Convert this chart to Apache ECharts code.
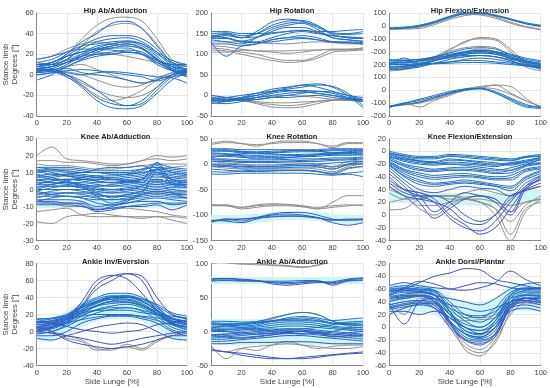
<!DOCTYPE html>
<html><head><meta charset="utf-8">
<script src="https://cdn.jsdelivr.net/npm/echarts@6/dist/echarts.min.js"></script>
<style>html,body{margin:0;padding:0;background:#fff}#c{width:550px;height:388px}</style>
</head><body><div id="c"></div>
<script>
const X = [0,10,20,30,40,50,60,70,80,90,100];
const xTicks = [0,20,40,60,80,100];

// Hip Ab/Adduction
const hipAbTicks = ['-40','-20','0','20','40','60'];
const hipAbGray = [
[10,12,20,35,48,55,56,52,35,15,8],[8,10,15,28,42,48,50,45,30,12,5],[5,4,0,-8,-15,-20,-22,-20,-12,0,3],
[5,3,-2,-10,-20,-25,-22,-15,-5,2,5],[3,5,8,10,5,0,-5,-8,-5,0,2],[12,10,15,20,22,20,18,15,12,10,8],
[6,5,3,0,-5,-10,-12,-10,-3,2,5],[15,18,25,30,32,30,28,25,15,10,8]];
const hipAbBlue = [
[10,12,20,32,40,50,52,45,28,12,5],[8,10,18,28,35,38,38,35,25,10,5],[5,8,15,25,32,35,36,32,22,8,2],
[12,15,22,28,30,32,33,30,20,12,8],[3,6,12,20,26,30,32,28,18,6,0],[8,12,18,22,25,28,30,26,15,8,6],
[0,2,8,15,22,26,28,25,15,5,-2],[6,8,12,16,20,22,24,22,14,8,4],[10,10,14,18,20,20,22,20,12,6,3],
[4,5,6,2,0,-2,-5,-8,-5,0,4],[2,3,0,-6,-15,-25,-30,-28,-15,-2,3],[5,4,-2,-12,-25,-32,-33,-30,-18,-5,2],
[8,6,0,-10,-22,-28,-30,-25,-12,0,5],[0,2,4,5,4,2,0,-2,-6,-2,0],[15,18,22,25,25,24,22,20,14,10,10],
[-5,0,8,14,18,20,22,20,12,4,-2],[3,5,2,0,2,3,2,0,-2,-3,-8],[10,12,18,22,28,30,32,30,22,14,10],
[2,4,10,18,24,28,30,26,16,4,0],[6,8,12,18,24,26,26,20,10,4,2]];

// Hip Rotation
const hipRotTicks = ['-50','0','50','100','150','200'];
const hipRotGray = [
[115,112,105,100,90,85,85,95,110,110,112],[110,108,100,92,85,80,82,90,105,108,110],
[120,118,112,108,105,102,105,110,112,112,115],[105,105,110,108,108,108,110,110,112,112,115],
[130,130,130,128,126,125,128,130,128,125,125],[0,-5,-10,-18,-22,-25,-22,-15,-10,-8,-10],
[-5,-8,-12,-20,-28,-30,-28,-20,-12,-10,-12],[-10,-10,-12,-15,-18,-18,-16,-14,-12,-12,-14],
[-15,-12,-10,-5,-2,0,-2,-5,-10,-12,-15]];
const hipRotBlue = [
[140,150,140,155,178,185,180,165,150,148,150],[145,148,140,150,170,180,182,170,148,140,138],
[150,152,145,150,165,175,178,168,152,150,155],[135,130,125,140,160,170,175,160,140,135,130],
[140,145,140,142,150,155,158,152,145,142,140],[130,95,120,125,135,140,145,140,130,128,125],
[145,140,130,130,140,150,155,150,145,140,138],[155,155,150,150,152,155,158,155,155,158,160],
[125,125,120,125,135,140,140,135,130,128,125],[138,138,130,128,130,135,138,135,130,130,128],
[142,140,132,140,155,165,165,155,140,135,132],
[-10,-12,-5,5,15,20,25,20,10,0,-10],[-15,-10,-5,0,8,15,20,25,22,5,-25],
[-5,-10,-12,-5,5,10,12,10,5,-5,-15],[-20,-15,-8,0,10,18,25,28,20,0,-30],
[-8,-5,0,5,10,12,10,5,0,-5,-10],[-12,-15,-10,-5,0,5,8,5,0,-8,-10],
[0,-5,-8,-10,-5,0,5,10,8,0,-5],[-18,-20,-15,-10,-5,-5,-2,0,-5,-10,-15]];

// Hip Flexion/Extension (stacked offset axis)
const hipFlexTicks = ['-200','-100','0','100','200','-200','-100','0','100'];
const hipFlexGray = [
[160,170,190,240,300,330,340,330,260,200,170],[170,175,200,250,310,380,400,390,300,210,160],
[180,185,210,260,320,370,410,400,320,220,170],[150,160,190,230,270,300,320,300,240,180,150],
[200,200,210,230,250,260,270,260,230,200,180],
[475,480,490,520,560,590,585,560,520,490,470],[470,475,480,510,550,580,590,570,530,495,475],
[-130,-100,-130,-80,-40,0,20,40,30,-60,-140],[-120,-110,-90,-60,-20,10,30,40,-20,-80,-130],
[-125,-115,-100,-70,-30,0,20,10,-30,-80,-125]];
const hipFlexBlue = [
[200,250,210,230,260,280,290,280,250,220,200],[190,230,200,230,270,300,310,300,260,220,190],
[210,210,230,260,290,320,330,320,280,230,200],[180,185,200,230,260,280,290,280,250,210,180],
[220,220,230,250,270,290,300,290,260,230,210],[160,165,180,210,240,260,270,260,230,190,170],
[240,235,240,250,270,290,300,290,270,240,220],[170,175,190,210,220,230,230,220,210,190,175],
[200,200,205,210,220,240,250,240,220,200,190],[230,230,240,260,280,300,310,300,280,250,230],
[185,190,200,205,210,215,215,210,200,190,180],[210,215,225,240,255,270,270,260,240,220,205],
[480,485,500,530,570,600,600,580,550,520,500],[485,490,505,535,575,600,598,578,548,515,495],
[478,482,495,525,565,595,600,585,555,525,505],
[-135,-100,-80,-50,-20,5,15,-20,-70,-120,-130],[-130,-110,-95,-60,-25,0,10,-20,-80,-130,-140],
[-125,-100,-70,-40,-10,10,15,-10,-60,-110,-135]];

// Knee Ab/Adduction
const kneeAbTicks = ['-30','-20','-10','0','10','20','30'];
const kneeAbGray = [
[20,25,18,17,16,15,15,17,20,19,20],[-19,-20,-16,-15,-14,-15,-16,-17,-16,-18,-20],
[-13,-12,-11,-15,-16,-16,-16,-16,-16,-16,-17],[17,17,16,16,15,14,15,17,18,17,18],
[15,14,14,13,12,12,13,14,15,15,15],[-7,-8,-10,-10,-11,-11,-11,-12,-13,-15,-16],
[10,11,11,10,10,9,9,10,12,13,14],[-3,-3,-2,-2,-3,-4,-4,-3,-2,-3,-4],[5,5,6,6,6,5,5,6,7,7,8]];
const kneeAbBlue = [
[13,13,13,12,11,11,11,12,13,12,11],[10,11,10,9,8,8,9,11,14,10,9],[8,9,8,7,6,6,7,8,10,8,7],
[6,6,6,5,4,4,5,6,8,6,5],[4,4,4,3,2,2,3,4,5,4,3],[2,2,2,1,0,0,1,2,3,2,1],[0,0,0,-1,-2,-2,-1,0,1,0,-1],
[-2,-2,-2,-3,-4,-4,-3,-2,-1,-2,-3],[-4,-4,-4,-5,-6,-6,-5,-4,-3,-4,-5],[-6,-6,-6,-7,-10,-9,-8,-6,-5,-6,-7],
[-8,-8,-8,-9,-13,-12,-10,-9,-8,-8,-8],[12,10,8,6,5,4,5,6,16,5,4],[9,7,5,3,2,3,4,6,12,3,2],
[7,8,9,10,10,9,9,10,11,10,9],[3,5,6,6,5,4,4,5,6,5,5],[1,3,4,4,3,2,2,3,4,3,3],[-1,1,2,2,1,0,0,1,2,1,1],
[-3,-1,0,0,-1,-2,-2,-1,0,-1,-1],[-5,-3,-2,-2,-3,-4,-4,-3,-2,-3,-3],[-7,-5,-4,-4,-5,-6,-6,-5,-4,-5,-5],
[5,7,8,8,7,6,6,7,9,7,6],[11,12,12,11,10,10,10,12,15,13,12],[0,2,2,1,-2,-5,-3,-1,5,-2,-5],
[8,6,4,2,-4,-8,-6,-2,10,4,2],[11,9,9,8,7,7,8,9,12,11,10],[-1,-3,-4,-5,-8,-9,-7,-3,-1,-2,-2],
[6,4,3,2,0,-1,0,2,6,3,3],[3,3,5,7,8,6,5,4,12,6,4],[13,12,11,10,12,13,13,14,10,9,8]];
const kneeAbDark = [[-9,-9,-9,-10,-12,-11,-10,-10,-9,-12,-9],[-7,-7,-8,-8,-12,-10,-8,-7,-7,-9,-8]];
const kneeAbBand = [[-11,-11,-11,-11,-11,-11,-11,-11,-11,-11,-11],[-6,-6,-6,-6,-6,-6,-6,-6,-6,-6,-6]];

// Knee Rotation
const kneeRotTicks = ['-150','-100','-50','0','50'];
const kneeRotGray = [
[40,45,40,35,42,45,45,40,35,42,42],[38,42,40,38,40,42,42,40,32,40,40],
[5,2,0,-5,-5,-3,-3,-5,-10,0,5],[0,-3,-5,-8,-8,-8,-8,-10,-15,-5,0],[10,8,5,5,3,2,2,0,-5,5,8],
[-5,-8,-10,-12,-12,-12,-12,-15,-20,-10,-5],
[-80,-82,-85,-82,-80,-80,-82,-85,-82,-80,-82],[-82,-82,-88,-85,-82,-82,-84,-88,-75,-62,-62],
[-80,-80,-85,-80,-78,-79,-82,-88,-85,-82,-80]];
const kneeRotBlue = [
[30,30,28,28,28,28,28,28,30,30,30],[25,25,22,22,22,23,24,24,26,26,27],[20,20,18,17,18,18,19,20,22,22,22],
[15,15,13,12,13,13,14,15,17,17,18],[10,10,8,8,8,9,10,10,12,12,14],[5,5,3,3,3,4,5,5,7,8,10],
[0,0,-2,-2,-2,-1,0,0,2,4,5],[-5,-5,-8,-8,-8,-7,-6,-6,-10,-2,0],[-10,-12,-14,-15,-14,-13,-13,-15,-18,-8,-5],
[-20,-20,-18,-18,-18,-18,-18,-20,-22,-20,-25],[28,26,24,20,22,25,26,25,22,24,26],
[12,18,20,22,20,18,15,18,20,22,24],[22,20,15,10,10,12,15,18,20,20,18],
[27,28,25,24,25,26,27,26,28,28,28],[18,17,16,15,15,16,17,18,19,20,20],[8,7,5,4,5,6,7,8,9,10,12],
[-2,-3,-5,-5,-5,-4,-3,-3,-6,0,2],[-15,-16,-14,-12,-12,-12,-12,-14,-20,-18,-15],
[-112,-110,-108,-105,-100,-98,-100,-105,-110,-110,-110],[-115,-108,-112,-105,-98,-95,-95,-100,-108,-110,-108]];
const kneeRotDark = [[-110,-112,-115,-108,-102,-102,-102,-105,-115,-120,-115],[-112,-108,-108,-106,-104,-102,-103,-106,-110,-108,-108]];
const kneeRotBand = [[-118,-118,-118,-116,-112,-110,-110,-112,-116,-118,-118],[-100,-100,-100,-98,-94,-92,-92,-94,-98,-100,-100]];

// Knee Flexion/Extension (stacked offset axis)
const kneeFlexTicks = ['-40','-20','0','20','40','-40','-20','0','20'];
const kneeFlexGray = [
[50,40,35,30,30,35,40,35,30,40,45],[45,30,10,0,15,25,20,10,-30,10,20],[40,30,15,15,20,25,20,0,-40,5,25],
[35,25,25,30,30,25,20,10,-10,15,30],[20,25,30,30,25,25,25,20,15,20,25],[8,10,25,30,30,28,30,25,5,20,25]];
const kneeFlexBlue = [
[100,95,92,92,95,94,92,90,88,92,95],[98,92,88,88,92,90,88,86,85,90,92],[95,88,84,82,86,85,82,80,82,86,90],
[92,84,80,78,80,80,78,76,80,82,86],[90,80,75,72,74,75,72,70,74,80,82],[88,76,70,68,70,70,68,65,66,76,80],
[85,72,66,62,64,65,62,60,62,72,76],[82,68,60,56,58,60,58,55,55,68,72],[80,65,55,50,52,55,52,48,45,60,70],
[78,60,48,45,48,50,48,45,38,55,65],[75,55,40,35,40,45,42,40,30,50,62],[90,88,85,82,80,78,75,72,70,78,88],
[96,90,85,84,88,86,84,82,78,84,90],[97,93,90,90,93,92,90,88,86,91,93],[93,86,82,80,83,82,80,78,81,84,88],
[87,78,72,70,72,72,70,67,70,78,81],[83,70,63,59,61,62,60,57,58,70,74],[79,62,52,48,50,52,50,46,42,58,68]];
const kneeFlexDark = [
[70,50,30,5,20,35,30,25,5,45,60],[65,45,20,-5,10,25,30,20,0,40,58],[60,40,30,20,-5,-20,-25,-10,20,45,55],
[55,40,35,25,0,-15,-30,-20,10,42,55],[50,35,30,30,20,0,-10,0,25,40,50],[45,30,25,20,10,-10,-15,0,30,38,45]];
const kneeFlexBand = [[20,20,18,18,15,15,15,15,15,18,20],[40,40,38,36,34,34,34,34,34,38,40]];

// Ankle Inv/Eversion
const ankInvTicks = ['-40','-20','0','20','40','60','80'];
const ankInvGray = [
[0,-2,-8,-12,-22,-20,-18,-22,-12,-5,0],[5,0,-5,-10,-20,-22,-15,-20,-10,-5,-2],
[2,5,10,20,30,35,35,30,20,10,5],[8,10,15,25,35,40,38,32,22,12,8]];
const ankInvBlue = [
[12,15,20,32,40,45,45,40,30,20,15],[8,10,18,30,38,42,42,38,28,15,10],[5,8,15,28,35,40,40,35,25,12,8],
[2,5,12,25,33,38,38,33,22,10,5],[0,3,10,22,30,35,35,30,20,8,2],[-2,0,8,18,26,30,32,28,18,5,0],
[10,12,15,20,25,28,28,25,20,15,12],[15,15,18,22,25,25,25,22,20,18,16],[14,16,20,28,35,38,40,38,32,22,18],
[3,6,14,26,34,40,42,36,24,10,6],[-3,0,6,15,22,26,28,24,14,2,-2],[8,10,14,18,20,20,20,18,16,12,10],
[6,9,16,29,36,41,41,36,26,13,9],[1,4,11,23,31,36,37,31,21,9,3],[11,13,17,24,30,33,34,30,24,16,12],
[4,6,10,14,17,19,19,17,13,8,6]];
const ankInvDark = [
[5,8,12,30,55,65,68,60,30,15,12],[0,5,15,35,60,66,62,45,25,10,5],[10,12,18,30,50,60,68,65,40,20,15],
[-5,-5,0,10,15,18,18,15,10,0,-5],[-8,-10,-5,0,5,8,10,8,0,-8,-10],[0,-2,-5,-8,-12,-15,-12,-8,-5,-2,0],
[5,0,-10,-15,-18,-20,-18,-15,-10,-5,-5],[12,10,6,2,0,-2,0,2,8,10,14]];
const ankInvBand = [[-12,-12,-5,5,12,15,15,12,5,-10,-12],[15,16,24,34,42,45,45,42,32,18,15]];

// Ankle Ab/Adduction
const ankAbTicks = ['-50','0','50','100'];
const ankAbGray = [
[100,102,100,98,98,97,95,97,103,105,102],[102,101,99,100,97,96,94,98,104,104,103],
[-20,-40,-25,-22,-20,-18,-20,-22,-25,-25,-22],[-25,-30,-25,-28,-20,-15,-20,-25,-22,-20,-20],
[5,10,12,15,18,25,28,25,15,8,5],[-5,-3,0,2,4,4,2,0,-5,-8,-5]];
const ankAbBlue = [
[75,76,75,74,73,72,73,74,72,75,76],[74,75,74,74,74,74,75,75,68,74,75],
[15,15,14,14,16,18,18,16,12,14,15],[10,10,10,12,15,18,20,18,12,10,10],[5,5,6,8,12,14,14,12,8,6,6],
[0,0,2,4,6,8,8,6,4,2,0],[-5,-4,-2,0,2,4,4,2,0,-2,-4],[-10,-8,-6,-4,-2,0,0,-2,-4,-6,-8],
[5,8,10,14,20,25,28,25,15,10,8],[12,10,8,10,15,20,22,20,16,18,20],[0,2,4,2,0,-2,-4,-2,0,4,2],
[8,8,6,4,2,2,4,6,10,12,10],[13,12,12,13,15,16,16,15,12,12,13],[3,3,4,6,9,11,11,9,6,4,3],
[-8,-6,-4,-2,0,2,2,0,-2,-4,-6],[-12,-11,-9,-7,-5,-3,-3,-5,-7,-9,-11]];
const ankAbDark = [
[76,78,77,75,72,70,72,73,70,76,78],[78,78,76,75,70,68,70,72,73,77,79],
[-15,-14,-12,-10,-8,-6,-6,-8,-10,-12,-14],[-18,-18,-16,-16,-16,-15,-15,-16,-18,-18,-18],
[-5,-8,-10,-8,-5,-2,0,-2,-8,-6,-5],[-28,-30,-35,-38,-40,-40,-38,-36,-34,-32,-30],
[-27,-30,-32,-35,-38,-40,-40,-38,-35,-33,-32],[2,0,-2,-4,-3,-1,0,-3,-5,-2,0]];
const ankAbBands = [[[70,70,70,70,70,70,70,70,70,70,70],[80,80,80,80,80,80,80,80,80,80,80]],
[[-20,-20,-20,-20,-20,-20,-20,-20,-20,-20,-20],[18,18,18,18,18,18,18,18,18,18,18]]];

// Ankle Dorsi/Plantar (stacked offset axis)
const ankDorTicks = ['-60','-40','-20','0','20','40','-60','-40','-20'];
const ankDorGray = [
[40,20,45,40,10,-35,-45,-20,20,40,45],[50,45,50,45,0,-30,-40,-25,25,50,55],
[45,50,52,45,20,10,12,15,35,45,45],[35,40,42,35,5,-25,-35,-15,30,40,40],[30,35,38,35,25,15,15,20,35,38,35]];
const ankDorBlue = [
[50,55,55,50,20,-5,-10,0,40,55,55],[45,50,50,45,10,-15,-20,-10,35,50,50],[55,60,58,55,30,10,0,15,50,60,60],
[60,62,60,58,40,20,15,30,55,62,62],[35,40,42,38,15,0,-5,10,40,45,40],[45,48,50,45,30,20,18,25,45,50,48],
[62,65,62,58,25,-5,-12,10,48,58,60],[28,32,36,38,20,5,0,15,40,42,38],[48,52,54,50,25,-10,-18,-5,38,52,52],
[52,57,56,52,25,0,-5,5,45,57,57],[42,47,49,42,8,-18,-22,-12,32,47,47],[58,61,59,56,35,15,8,22,52,61,61],
[32,37,40,34,8,-10,-16,0,35,42,38]];
const ankDorDark = [
[40,45,48,40,5,-20,-25,-15,30,45,45],[30,35,38,30,0,-20,-28,-10,30,40,35],[65,70,65,62,60,65,70,68,62,60,62],
[55,60,70,80,85,92,90,75,70,65,60],[50,62,72,68,60,58,62,70,88,75,65],[20,30,35,30,10,-10,-15,0,25,30,25],
[38,5,40,45,35,30,25,30,40,45,42],[58,58,56,50,45,40,35,45,60,68,70],[25,25,20,25,15,0,-10,5,30,35,30]];
const ankDorBand = [[20,22,24,22,0,-15,-20,-5,25,25,25],[66,68,68,64,50,40,38,45,68,68,68]];

const GRAY = '#8e8e8e', BLUE = '#1c6fc8', DARK = '#3d52cc', BAND = '#cdf6f6';

const panels = [
 {t:'Hip Ab/Adduction', min:-40,max:60,iv:20,ticks:hipAbTicks,g:hipAbGray,b:hipAbBlue,d:[],bands:[]},
 {t:'Hip Rotation', min:-50,max:200,iv:50,ticks:hipRotTicks,g:hipRotGray,b:hipRotBlue,d:[],bands:[]},
 {t:'Hip Flexion/Extension', min:-200,max:600,iv:100,ticks:hipFlexTicks,g:hipFlexGray,b:hipFlexBlue,d:[],bands:[]},
 {t:'Knee Ab/Adduction', min:-30,max:30,iv:10,ticks:kneeAbTicks,g:kneeAbGray,b:kneeAbBlue,d:kneeAbDark,bands:[kneeAbBand]},
 {t:'Knee Rotation', min:-150,max:50,iv:50,ticks:kneeRotTicks,g:kneeRotGray,b:kneeRotBlue,d:kneeRotDark,bands:[kneeRotBand]},
 {t:'Knee Flexion/Extension', min:-40,max:120,iv:20,ticks:kneeFlexTicks,g:kneeFlexGray,b:kneeFlexBlue,d:kneeFlexDark,bands:[kneeFlexBand]},
 {t:'Ankle Inv/Eversion', min:-40,max:80,iv:20,ticks:ankInvTicks,g:ankInvGray,b:ankInvBlue,d:ankInvDark,bands:[ankInvBand]},
 {t:'Ankle Ab/Adduction', min:-50,max:100,iv:50,ticks:ankAbTicks,g:ankAbGray,b:ankAbBlue,d:ankAbDark,bands:ankAbBands},
 {t:'Ankle Dorsi/Plantar', min:-60,max:100,iv:20,ticks:ankDorTicks,g:ankDorGray,b:ankDorBlue,d:ankDorDark,bands:[ankDorBand]}
];

const lefts = [34, 211, 389], widths = [153, 152, 152];
const tops = [13, 138.5, 263.5], heights = [103, 102, 102];
const grids = [], xAxes = [], yAxes = [], titles = [], series = [];
const font = 'Liberation Sans, Arial, sans-serif';
panels.forEach((p, i) => {
  const r = Math.floor(i / 3), c = i % 3;
  grids.push({left: lefts[c], top: tops[r], width: widths[c], height: heights[r]});
  titles.push({text: p.t, left: lefts[c] + widths[c] / 2, top: tops[r] - 11, textAlign: 'center',
    textStyle: {fontSize: 7.5, fontWeight: 'bold', color: '#222', fontFamily: font}});
  xAxes.push({type: 'value', gridIndex: i, min: 0, max: 100, interval: 20,
    name: r === 2 ? 'Side Lunge [%]' : '', nameLocation: 'middle', nameGap: 10,
    nameTextStyle: {fontSize: 8, color: '#444', fontFamily: font},
    axisLine: {show: true, onZero: false, lineStyle: {color: '#888', width: 1}}, axisTick: {show: false},
    axisLabel: {fontSize: 7.5, color: '#444', margin: 3, fontFamily: font,
      formatter: v => String(xTicks[Math.round(v / 20)])},
    splitLine: {show: true, lineStyle: {color: '#e6e6e6', width: 1}}});
  yAxes.push({type: 'value', gridIndex: i, min: p.min, max: p.max, interval: p.iv,
    name: c === 0 ? 'Stance limb\nDegrees [°]' : '', nameLocation: 'middle', nameGap: 13,
    nameTextStyle: {fontSize: 8, color: '#444', fontFamily: font, lineHeight: 9},
    axisLine: {show: true, onZero: false, lineStyle: {color: '#888', width: 1}}, axisTick: {show: false},
    axisLabel: {fontSize: 7.5, color: '#444', margin: 3, fontFamily: font,
      formatter: v => p.ticks[Math.round((v - p.min) / p.iv)]},
    splitLine: {show: true, lineStyle: {color: '#e6e6e6', width: 1}}});
  p.bands.forEach(bd => {
    series.push({type: 'custom', xAxisIndex: i, yAxisIndex: i, silent: true, z: 1, clip: true, data: [0],
      renderItem: (params, api) => {
        const pts = [];
        X.forEach((x, j) => pts.push(api.coord([x, bd[1][j]])));
        for (let j = X.length - 1; j >= 0; j--) pts.push(api.coord([X[j], bd[0][j]]));
        return {type: 'polygon', shape: {points: pts}, style: {fill: BAND}};
      }});
  });
  const add = (arr, col, z) => arr.forEach(vals => series.push({type: 'line', xAxisIndex: i, yAxisIndex: i,
    showSymbol: false, smooth: 0.35, silent: true, z: z,
    lineStyle: {color: col, width: 1}, data: X.map((x, j) => [x, vals[j]])}));
  add(p.g, GRAY, 2);
  add(p.b, BLUE, 3);
  add(p.d, DARK, 4);
});

const chart = echarts.init(document.getElementById('c'), null, {renderer: 'canvas'});
chart.setOption({animation: false, backgroundColor: '#fff', title: titles, grid: grids,
  xAxis: xAxes, yAxis: yAxes, series: series});
</script></body></html>
